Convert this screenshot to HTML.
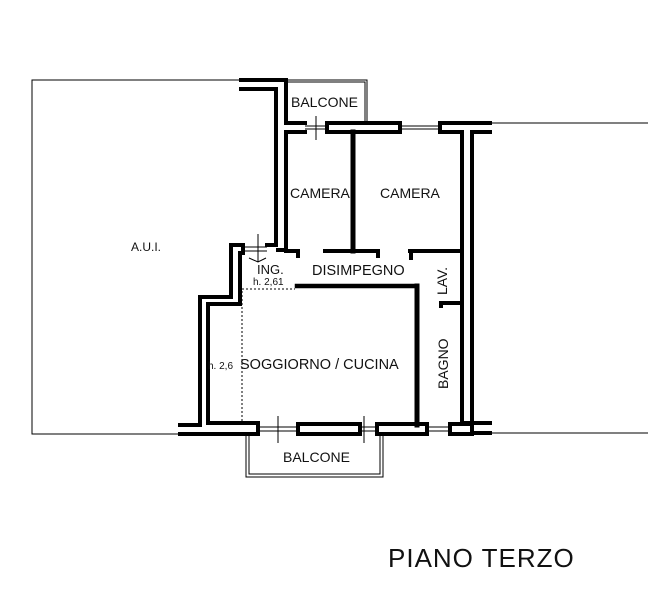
<!DOCTYPE html>
<html><head><meta charset="utf-8"><style>
html,body{margin:0;padding:0;background:#fff}
svg{display:block}
text{font-family:"Liberation Sans",sans-serif;fill:#111}
</style></head><body>
<svg width="648" height="600" viewBox="0 0 648 600" xmlns="http://www.w3.org/2000/svg">
<g fill="none" stroke="#000">
<polyline points="240,80 32,80 32,434 180,434" stroke-width="1"/>
<line x1="490" y1="123" x2="648" y2="123" stroke-width="1"/>
<line x1="490" y1="433" x2="648" y2="433" stroke-width="1"/>
<polyline points="285,80 367,80 367,123" stroke-width="1"/>
<polyline points="287,82 365,82 365,123" stroke-width="1"/>
<polyline points="246,435 246,477 383,477 383,435" stroke-width="1"/>
<polyline points="249,435 249,474 380,474 380,435" stroke-width="1"/>
</g>
<g fill="none" stroke="#000" stroke-width="4" stroke-linecap="square">
<polyline points="241,80 286,80 286,123 305,123"/>
<polyline points="241,89 276,89 276,245 267,245"/>
<polyline points="286,132 305,132"/>
<rect x="327" y="123" width="73" height="9"/>
<polyline points="440,123 490,123"/>
<polyline points="440,123 440,132 462,132 462,423"/>
<polyline points="472,132 490,132"/>
<polyline points="472,132 472,433 490,433"/>
<polyline points="462,423 490,423"/>
<polyline points="286,132 286,250 278,250"/>
<line x1="353" y1="132" x2="353" y2="251" stroke-width="5"/>
<polyline points="286,251 298,251 298,256"/>
<polyline points="325,251 352,251"/>
<polyline points="353,251 378,251 378,256"/>
<polyline points="410,251 462,251"/>
<line x1="411" y1="251" x2="411" y2="258"/>
<line x1="297" y1="286" x2="417" y2="286" stroke-width="4.5"/>
<line x1="417" y1="286" x2="417" y2="425" stroke-width="5"/>
<polyline points="441,306 441,303 462,303"/>
<polyline points="243,245 231,245 231,297 200,297 200,425 180,425"/>
<polyline points="243,245 243,253 240,253 240,304 208,304 208,423"/>
<polyline points="180,434 258,434"/>
<polyline points="208,423 258,423 258,434"/>
<rect x="298" y="424" width="62" height="10"/>
<rect x="377" y="424" width="50" height="10"/>
<polyline points="427,424 427,434"/>
<rect x="450" y="424" width="22" height="10"/>
</g>
<g stroke="#000" stroke-width="1" fill="none">
<line x1="305" y1="126" x2="327" y2="126"/><line x1="305" y1="129" x2="327" y2="129"/>
<line x1="316" y1="116" x2="316" y2="140"/>
<line x1="400" y1="126" x2="440" y2="126"/><line x1="400" y1="129" x2="440" y2="129"/>
<line x1="258" y1="427" x2="298" y2="427"/><line x1="258" y1="431" x2="298" y2="431"/>
<line x1="360" y1="427" x2="377" y2="427"/><line x1="360" y1="431" x2="377" y2="431"/>
<line x1="427" y1="427" x2="450" y2="427"/><line x1="427" y1="431" x2="450" y2="431"/>
<line x1="278" y1="416" x2="278" y2="443"/><line x1="364" y1="416" x2="364" y2="443"/>
<line x1="258" y1="234" x2="258" y2="262"/>
<line x1="245" y1="247" x2="267" y2="247"/><line x1="245" y1="251" x2="267" y2="251"/>
<path d="M249,258 L258,262 L266,258"/>
<path d="M242,425 L242,289 L295,289" stroke-dasharray="2,2"/>
</g>
<text x="291" y="107" font-size="14">BALCONE</text>
<text x="290" y="198" font-size="14">CAMERA</text>
<text x="380" y="198" font-size="14">CAMERA</text>
<text x="131" y="251" font-size="12">A.U.I.</text>
<text x="257" y="274" font-size="13">ING.</text>
<text x="253" y="285" font-size="10">h. 2,61</text>
<text x="312" y="275" font-size="14.5">DISIMPEGNO</text>
<text transform="translate(447,295) rotate(-90)" font-size="14">LAV.</text>
<text x="240" y="369" font-size="14.5">SOGGIORNO / CUCINA</text>
<text x="208" y="369" font-size="10">h. 2,6</text>
<text transform="translate(448,389) rotate(-90)" font-size="14">BAGNO</text>
<text x="283" y="462" font-size="14">BALCONE</text>
<text x="388" y="567" font-size="26" letter-spacing="1">PIANO TERZO</text>
</svg>
</body></html>
